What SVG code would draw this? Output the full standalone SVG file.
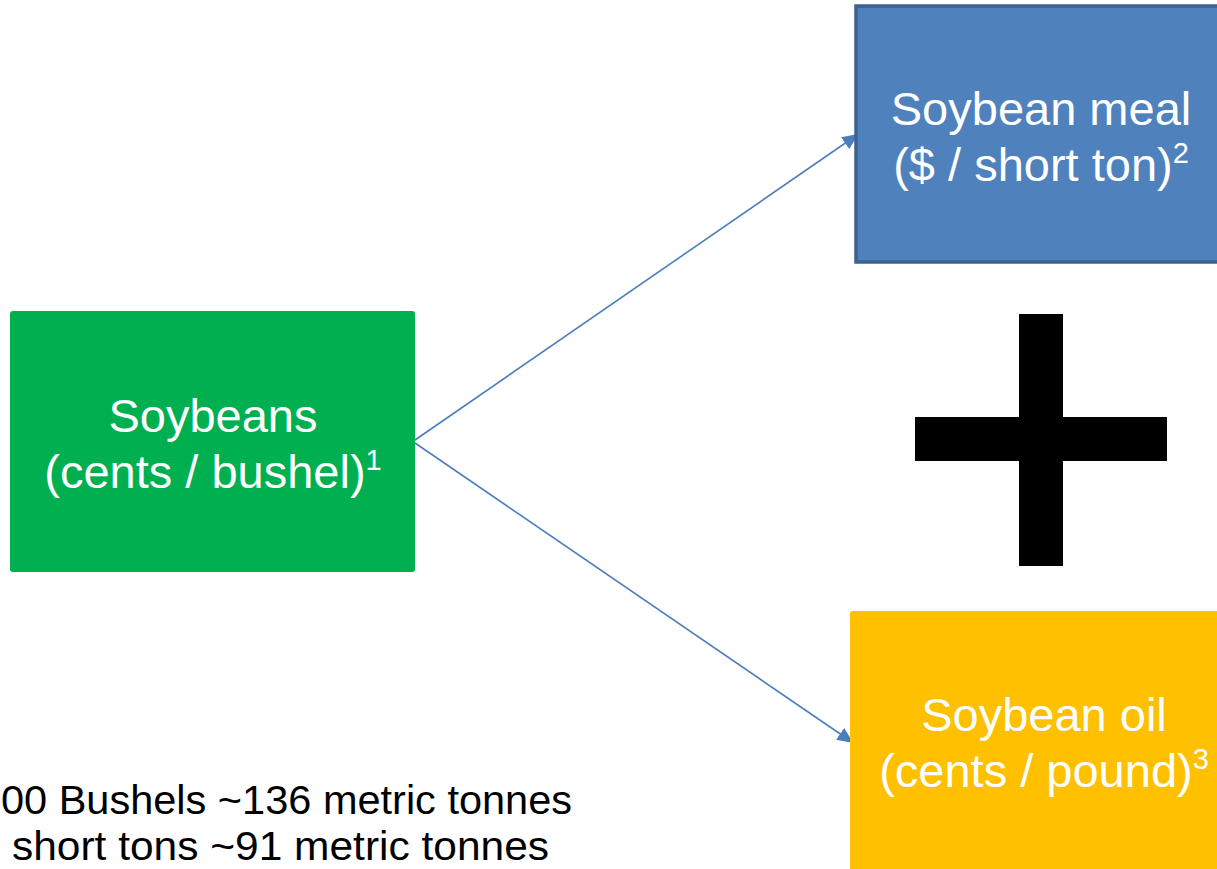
<svg xmlns="http://www.w3.org/2000/svg" width="1217" height="869" viewBox="0 0 1217 869">
<defs>
<marker id="arrow" viewBox="0 0 10 10" refX="9" refY="5" markerWidth="16" markerHeight="16" markerUnits="userSpaceOnUse" orient="auto">
<path d="M0,0.5 L10,5 L0,9.5 z" fill="#4a7ebb"/>
</marker>
</defs>
<style>
.lbl{font-family:"Liberation Sans",Arial,sans-serif;font-size:47px;fill:#ffffff;text-anchor:middle}
.sup{font-size:29px}
.note{font-family:"Liberation Sans",Arial,sans-serif;font-size:41px;fill:#000000}
.conn{stroke:#4a7ebb;stroke-width:1.6;fill:none;marker-end:url(#arrow)}
</style>
<rect width="1217" height="869" fill="#ffffff"/>
<g id="connectors">
<line class="conn" x1="415" y1="440" x2="857" y2="135"/>
<line class="conn" x1="415" y1="443" x2="852" y2="742"/>
</g>
<g id="soybeans">
<rect x="10" y="311" width="405" height="261" rx="3" fill="#00b050"/>
<text class="lbl" x="213" y="432">Soybeans</text>
<text class="lbl" x="213" y="488">(cents / bushel)<tspan class="sup" dy="-18">1</tspan></text>
</g>
<g id="meal">
<rect x="856" y="6" width="370" height="256" fill="#4f81bd" stroke="#3c6290" stroke-width="3.5"/>
<text class="lbl" x="1041" y="125">Soybean meal</text>
<text class="lbl" x="1041" y="181">($ / short ton)<tspan class="sup" dy="-18">2</tspan></text>
</g>
<g id="oil">
<rect x="850" y="611" width="380" height="270" rx="3" fill="#ffc000"/>
<text class="lbl" x="1044" y="731">Soybean oil</text>
<text class="lbl" x="1044" y="787">(cents / pound)<tspan class="sup" dy="-18">3</tspan></text>
</g>
<g id="plus">
<rect x="1019" y="314" width="44" height="252" fill="#000000"/>
<rect x="915" y="417" width="252" height="44" fill="#000000"/>
</g>
<g id="notes">
<text class="note" x="1" y="814" textLength="571" lengthAdjust="spacingAndGlyphs">00 Bushels ~136 metric tonnes</text>
<text class="note" x="12" y="860" textLength="537" lengthAdjust="spacingAndGlyphs">short tons ~91 metric tonnes</text>
</g>
</svg>
